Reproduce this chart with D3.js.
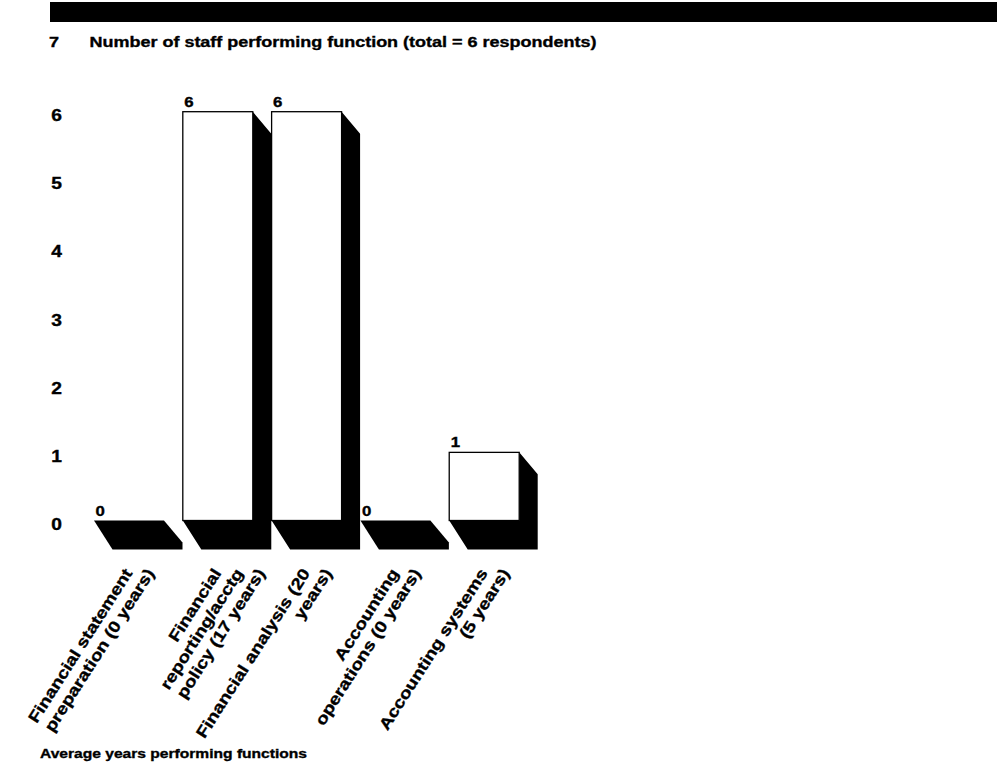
<!DOCTYPE html>
<html><head><meta charset="utf-8">
<script src="https://cdn.jsdelivr.net/npm/d3@7"></script>
<style>
body{margin:0;background:#fff}
text{font-family:"Liberation Sans",Arial,Helvetica,sans-serif;font-weight:bold;fill:#000;stroke:#000;stroke-width:0.35px}
</style>
</head><body>
<svg id="chart" width="997" height="772"></svg>
<script>
// ---- data ----
const categoryLines = [
  ["Financial statement", "preparation (0 years)"],
  ["Financial", "reporting/acctg", "policy (17 years)"],
  ["Financial analysis (20", "years)"],
  ["Accounting", "operations (0 years)"],
  ["Accounting systems", "(5 years)"]
];
const values = [0, 6, 6, 0, 1];
const yTickValues = [0, 1, 2, 3, 4, 5, 6];
const titleNumber = "7";
const titleText = "Number of staff performing function (total = 6 respondents)";
const xAxisTitle = "Average years performing functions";

// ---- layout ----
const svg = d3.select("#chart");
const SX = 1.2; // horizontal glyph stretch of the original typeface

const x = d3.scaleBand().domain(d3.range(values.length))
  .range([94, 519.2]).paddingInner(0.212).paddingOuter(0);
const y = d3.scaleLinear().domain([0, 6]).range([520.5, 111.7]);

const barData = values.map((v, i) => ({ v, i }));

// header bar
svg.append("rect").attr("x", 50).attr("y", 2).attr("width", 947).attr("height", 20).attr("fill", "#000");

// title
svg.append("text").attr("transform", `translate(49,47) scale(${SX},1)`)
  .style("font-size", "15px").text(titleNumber);
svg.append("text").attr("transform", `translate(89.5,47) scale(${SX},1)`)
  .style("font-size", "15px").text(titleText);

// y tick labels (no axis line)
svg.append("g").selectAll("text").data(yTickValues).join("text")
  .attr("transform", d => `translate(56.5,${y(d) + 9.5}) scale(${SX},1)`)
  .attr("text-anchor", "middle").style("font-size", "16px")
  .text(d => d);

// bars with 3D black depth
const dxR = 18.5, dyR = 22, dyB = 29, dxL = 18.5;
const bars = svg.append("g").selectAll("g").data(barData).join("g");
bars.append("path")
  .attr("d", d => {
    const x0 = x(d.i), x1 = x(d.i) + x.bandwidth(), yt = y(d.v), yb = y(0);
    return `M${x1},${yt} L${x1 + dxR},${yt + dyR} L${x1 + dxR},${yb + dyB} L${x0 + dxL},${yb + dyB} L${x0},${yb} L${x1},${yb} Z`;
  })
  .attr("fill", "#000");
bars.filter(d => d.v > 0).append("rect")
  .attr("x", d => x(d.i)).attr("y", d => y(d.v))
  .attr("width", x.bandwidth()).attr("height", d => y(0) - y(d.v))
  .attr("fill", "#fff").attr("stroke", "#000").attr("stroke-width", 1.3);

// value labels
bars.append("text")
  .attr("transform", d => `translate(${x(d.i) + 1.5},${y(d.v) - 5}) scale(${SX},1)`)
  .style("font-size", "14px").text(d => d.v);

// category labels, rotated, each line ending on a common horizontal line
const labG = svg.append("g");
categoryLines.forEach((lines, i) => {
  const cx = x(i) + x.bandwidth() / 2;
  lines.forEach((ln, j) => {
    labG.append("text")
      .attr("transform", `translate(${cx + 4 + 22 * j},573) rotate(-57.5) scale(${SX},1)`)
      .attr("text-anchor", "end").style("font-size", "16px").text(ln);
  });
});

// bottom title
svg.append("text").attr("transform", `translate(40,758) scale(${SX},1)`)
  .style("font-size", "13px").text(xAxisTitle);
</script>
</body></html>
